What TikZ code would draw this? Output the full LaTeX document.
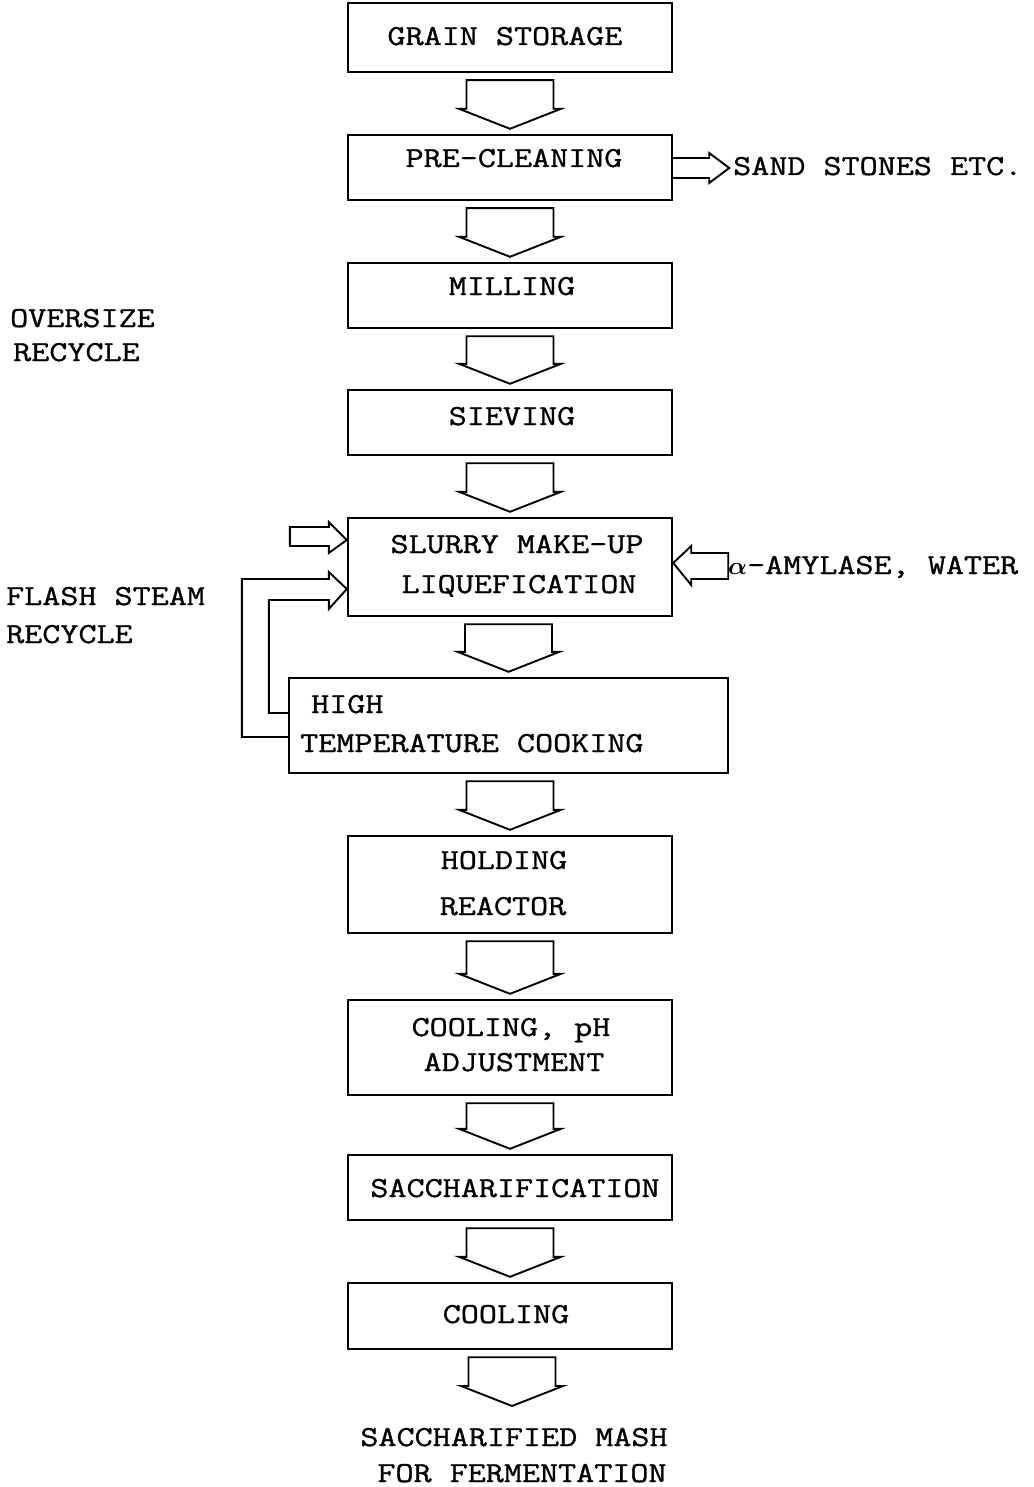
\documentclass[tikz,border=0pt]{standalone}
\usepackage{fontspec}
\setmainfont{Latin Modern Mono}[FakeStretch=1.21, FakeBold=1.1]
\usetikzlibrary{calc}
\tikzset{
  box/.style={draw, line width=2.4pt, inner sep=0pt, minimum width=324pt},
  blk/.style={draw, line width=1.9pt, line join=miter},
  lbl/.style={inner sep=0pt, anchor=base, font=\fontsize{29}{34}\selectfont},
  lblw/.style={lbl, anchor=base west}
}
\newcommand\dnblk[2]{%
  \draw[blk] let \p1=(#1.south), \p2=(#2) in
    (\x2-43.5pt,\y1-7pt) -- (\x2-43.5pt,\y2+25pt) -- (\x2-51pt,\y2+25pt) --
    (\x2,\y2+5pt) -- (\x2+51pt,\y2+25pt) -- (\x2+43.5pt,\y2+25pt) --
    (\x2+43.5pt,\y1-7pt) -- cycle;}
\begin{document}
\begin{tikzpicture}[x=1pt,y=-1pt]
\useasboundingbox (0,0) rectangle (1033,1487);

% boxes
\node[box, minimum height=69pt] (b1) at (510,37.5) {};
\node[box, minimum height=65pt] (b2) at (510,167.5) {};
\node[box, minimum height=65pt] (b3) at (510,295.5) {};
\node[box, minimum height=65pt] (b4) at (510,422.5) {};
\node[box, minimum height=98pt] (b5) at (510,567) {};
\node[box, minimum width=439pt, minimum height=95pt] (b6) at (508.5,725.5) {};
\node[box, minimum height=97pt] (b7) at (510,884.5) {};
\node[box, minimum height=95pt] (b8) at (510,1047.5) {};
\node[box, minimum height=65pt] (b9) at (510,1187.5) {};
\node[box, minimum height=66pt] (b10) at (510,1316) {};
\coordinate (endtip) at (512,1411);

% texts
\node[lbl] (t1) at (505,45) {GRAIN STORAGE};
\node[lbl] (t2) at (514,167) {PRE-CLEANING};
\node[lblw] (sand) at (733,175) {SAND STONES ETC.};
\node[lbl] (t3) at (512,295) {MILLING};
\node[lblw] (over1) at (10,327) {OVERSIZE};
\node[lblw] (over2) at (13,361) {RECYCLE};
\node[lbl] (t4) at (512,425) {SIEVING};
\node[lbl] (t5a) at (517,553) {SLURRY MAKE-UP};
\node[lbl] (t5b) at (519,593) {LIQUEFICATION};
\node[lblw] (amyl) at (728,574) {{\boldmath$\alpha$}-AMYLASE, WATER};
\node[lblw] (flash1) at (6,605) {FLASH STEAM};
\node[lblw] (flash2) at (6,643) {RECYCLE};
\node[lblw] (t6a) at (311,713) {HIGH};
\node[lblw] (t6b) at (300,752) {TEMPERATURE COOKING};
\node[lbl] (t7a) at (504,869) {HOLDING};
\node[lbl] (t7b) at (503,915) {REACTOR};
\node[lbl] (t8a) at (511,1036) {COOLING, pH};
\node[lbl] (t8b) at (514,1071) {ADJUSTMENT};
\node[lbl] (t9) at (515,1197) {SACCHARIFICATION};
\node[lbl] (t10) at (506,1323) {COOLING};
\node[lbl] (out1) at (514,1446) {SACCHARIFIED MASH};
\node[lbl] (out2) at (522,1482) {FOR FERMENTATION};

% main flow block arrows
\dnblk{b1}{b2.north}
\dnblk{b2}{b3.north}
\dnblk{b3}{b4.north}
\dnblk{b4}{b5.north}
\dnblk{b5}{b6.north}
\dnblk{b6}{b7.north}
\dnblk{b7}{b8.north}
\dnblk{b8}{b9.north}
\dnblk{b9}{b10.north}
\dnblk{b10}{endtip}

% sand stones outlet
\draw[blk] ($(b2.east)+(0,-9.5)$) -- ($(b2.east)+(36,-9.5)$) -- ($(b2.east)+(36,-14.5)$)
  -- ($(b2.east)+(56,0.5)$) -- ($(b2.east)+(36,15.5)$) -- ($(b2.east)+(36,10.5)$)
  -- ($(b2.east)+(0,10.5)$);

% alpha-amylase inlet
\draw[blk] ($(b5.east)+(0,-4)$) -- ($(b5.east)+(18,-21)$) -- ($(b5.east)+(18,-14)$)
  -- ($(b5.east)+(55,-14)$) -- ($(b5.east)+(55,12)$) -- ($(b5.east)+(18,12)$)
  -- ($(b5.east)+(18,18)$) -- cycle;

% oversize recycle inlet
\draw[blk] ($(b5.west)+(0,-27)$) -- ($(b5.west)+(-18,-45)$) -- ($(b5.west)+(-18,-40)$)
  -- ($(b5.west)+(-57,-40)$) -- ($(b5.west)+(-57,-21)$) -- ($(b5.west)+(-18,-21)$)
  -- ($(b5.west)+(-18,-14)$) -- cycle;

% flash steam recycle
\draw[blk] ($(b6.west)+(0,11.5)$) -- ++(-46,0) |- ($(b5.west)+(-18,12)$)
  -- ($(b5.west)+(-18,5)$) -- ($(b5.west)+(0,22)$) -- ($(b5.west)+(-18,42)$)
  -- ($(b5.west)+(-18,33)$) -| ($(b6.west)+(-19,-12.5)$) -- ($(b6.west)+(0,-12.5)$);
\end{tikzpicture}
\end{document}
